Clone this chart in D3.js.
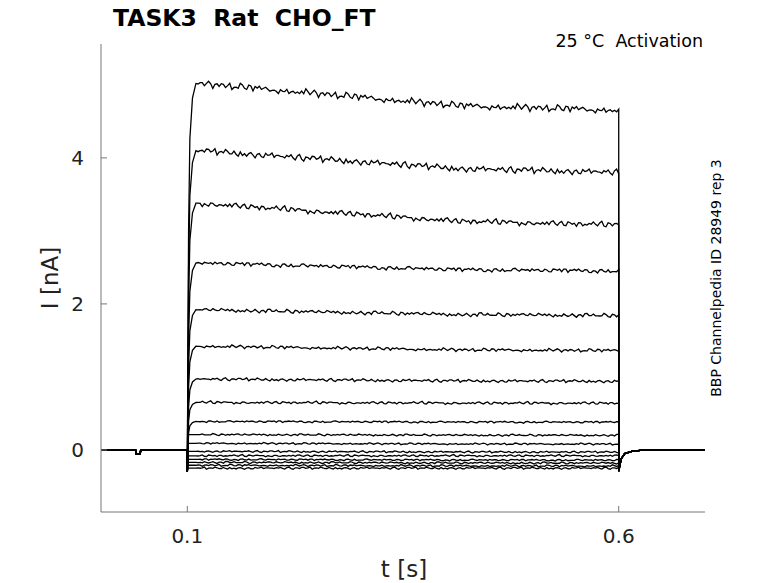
<!DOCTYPE html><html><head><meta charset="utf-8"><script src="https://cdn.jsdelivr.net/npm/d3@7"></script>
<style>body{margin:0;background:#fff}text{font-family:"DejaVu Sans",sans-serif;white-space:pre}</style></head><body><svg id="c" width="778" height="583"></svg>
<script>
const peakVals=[5.02,4.1,3.38,2.56,1.92,1.42,0.97,0.65,0.39,0.21,0.09,-0.02,-0.08,-0.13,-0.17,-0.21,-0.25];
const endVals=[4.65,3.8,3.08,2.45,1.84,1.36,0.94,0.64,0.38,0.2,0.08,-0.03,-0.08,-0.14,-0.18,-0.22,-0.25];
const wobble=[0.3,-0.5,0.8,0.1,-0.9,0.4,1.0,-0.2,-0.7,0.6,0.2,-1.0,0.5,0.9,-0.4,-0.1,0.7,-0.8,0.3,0.0,-0.6,0.8,0.4,-0.3,-0.9,0.6,0.1,-0.5,1.0,-0.2,0.5,-0.7,0.2,0.9,-0.4,-0.8,0.3,0.6,-0.1,-0.6,0.7,0.0,-0.3,0.8,-0.9,0.4,0.2,-0.5,0.6,-0.2];
const xTicks=[0.1,0.6], yTicks=[0,2,4];
const W=778,H=583,m={l:101,r:705,t:44,b:512};
const x=d3.scaleLinear().domain([0,0.7]).range([m.l,m.r]);
const y=d3.scaleLinear().domain([-0.85,5.56]).range([m.b,m.t]);
const svg=d3.select("#c");
const line=d3.line().x(d=>x(d[0])).y(d=>y(d[1]));
const g=svg.append("g");
peakVals.forEach((p,i)=>{
  const e=endVals[i], amp=0.016+Math.abs(e)*0.01;
  const pts=[[0,0],[0.04,0],[0.0405,-0.05],[0.0455,-0.05],[0.046,0],[0.0999,0],[0.1,-0.3]];
  const rise=p>0.3?[0.1015,p*0.6,0.103,p*0.85,0.106,p*0.96,0.11,p]:[0.101,p,0.11,p];
  for(let k=0;k<rise.length;k+=2)pts.push([rise[k],rise[k+1]]);
  const n=wobble.length*4;
  for(let k=1;k<=n;k++){
    const t=0.11+0.49*k/n, f=k/n;
    const base=p+(e-p)*Math.min(1,f*1.6)*0.55+(e-p)*0.45*f;
    const w=wobble[(k+i*7)%wobble.length]*0.6+wobble[(k*3+i)%wobble.length]*0.4;
    pts.push([t,base+w*amp*(k>2?1:0.3)]);
  }
  pts.push([0.6,e],[0.6001,-0.3+0.3*(i/16)*0.2],[0.603,-0.12],[0.607,-0.05],[0.615,-0.02],[0.63,0],[0.7,0]);
  g.append("path").attr("d",line(pts)).attr("fill","none").attr("stroke","#000").attr("stroke-width",1.3);
});
const ax=svg.append("g").attr("stroke","#777");
ax.append("line").attr("x1",m.l).attr("x2",m.l).attr("y1",m.t).attr("y2",m.b);
ax.append("line").attr("x1",m.l).attr("x2",m.r).attr("y1",m.b).attr("y2",m.b);
yTicks.forEach(v=>{ax.append("line").attr("x1",m.l).attr("x2",m.l+6).attr("y1",y(v)).attr("y2",y(v));
 svg.append("text").attr("x",m.l-17).attr("y",y(v)+7).attr("text-anchor","end").attr("font-size",20).attr("fill","#222").text(v);});
xTicks.forEach(v=>{ax.append("line").attr("x1",x(v)).attr("x2",x(v)).attr("y1",m.b).attr("y2",m.b-6);
 svg.append("text").attr("x",x(v)).attr("y",m.b+31).attr("text-anchor","middle").attr("font-size",20).attr("fill","#222").text(v);});
svg.append("text").attr("x",404).attr("y",577).attr("text-anchor","middle").attr("font-size",23).attr("fill","#222").text("t [s]");
svg.append("text").attr("transform","translate(58,278) rotate(-90)").attr("text-anchor","middle").attr("font-size",23).attr("fill","#222").text("I [nA]");
svg.append("text").attr("x",113).attr("y",26).attr("font-size",23.5).attr("font-weight","bold").text("TASK3  Rat  CHO_FT");
svg.append("text").attr("x",703).attr("y",47).attr("text-anchor","end").attr("font-size",17.5).text("25 °C  Activation");
svg.append("text").attr("transform","translate(721,278) rotate(-90)").attr("text-anchor","middle").attr("font-size",14).text("BBP Channelpedia ID 28949 rep 3");
</script></body></html>
